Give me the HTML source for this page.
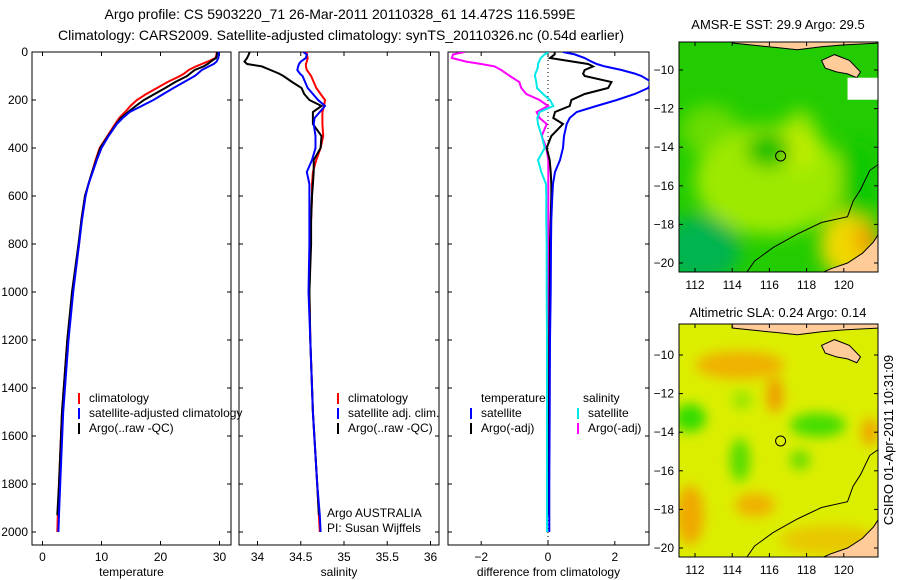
<!DOCTYPE html>
<html><head><meta charset="utf-8"><style>
html,body{margin:0;padding:0;background:#fff;}
svg{display:block;font-family:"Liberation Sans",Arial,sans-serif;}
</style></head><body>
<svg id="fig" width="900" height="580" viewBox="0 0 900 580" xmlns="http://www.w3.org/2000/svg">
<defs>
<clipPath id="c1"><rect x="32" y="52" width="199" height="493"/></clipPath>
<clipPath id="c2"><rect x="239" y="52" width="200" height="493"/></clipPath>
<clipPath id="c3"><rect x="448" y="52" width="201" height="493"/></clipPath>
<clipPath id="m1"><rect x="679" y="42" width="199" height="230"/></clipPath>
<clipPath id="m2"><rect x="679" y="324" width="199" height="233"/></clipPath>
<filter id="bl" x="-50%" y="-50%" width="200%" height="200%"><feGaussianBlur stdDeviation="9"/></filter>
<filter id="bl2" x="-50%" y="-50%" width="200%" height="200%"><feGaussianBlur stdDeviation="6"/></filter>
</defs>
<text x="340" y="19" font-size="14" text-anchor="middle">Argo profile: CS 5903220_71 26-Mar-2011 20110328_61 14.472S 116.599E</text>
<text x="341" y="40" font-size="14" text-anchor="middle" textLength="566">Climatology: CARS2009. Satellite-adjusted climatology: synTS_20110326.nc (0.54d earlier)</text>

<g id="maps">
 <g clip-path="url(#m1)">
  <rect x="679" y="42" width="199" height="230" fill="#22cc00"/>
  <g filter="url(#bl)">
   <ellipse cx="770" cy="180" rx="75" ry="55" fill="#b4ee00" opacity="0.85"/>
   <ellipse cx="710" cy="130" rx="30" ry="25" fill="#99e600" opacity="0.6"/>
   <ellipse cx="800" cy="140" rx="18" ry="30" fill="#ccf000" opacity="0.7"/>
   <ellipse cx="700" cy="250" rx="40" ry="35" fill="#00b450"/>
   <ellipse cx="850" cy="245" rx="30" ry="35" fill="#f0d800"/>
   <ellipse cx="866" cy="240" rx="10" ry="15" fill="#f09000"/>
   <ellipse cx="768" cy="150" rx="22" ry="18" fill="#10c000"/>
   <ellipse cx="860" cy="180" rx="20" ry="40" fill="#10c800"/>
  </g>
  <circle cx="780.6" cy="156" r="5" fill="none" stroke="#000" stroke-width="1"/>
 </g>
 <g clip-path="url(#m2)">
  <rect x="679" y="324" width="199" height="233" fill="#dcee00"/>
  <g filter="url(#bl2)">
   <ellipse cx="740" cy="365" rx="45" ry="14" fill="#f0b000"/>
   <ellipse cx="775" cy="395" rx="8" ry="18" fill="#f09800"/>
   <ellipse cx="690" cy="515" rx="14" ry="30" fill="#f0a800"/>
   <ellipse cx="755" cy="505" rx="20" ry="12" fill="#f0b000"/>
   <ellipse cx="870" cy="432" rx="8" ry="14" fill="#f0a000"/>
   <ellipse cx="690" cy="418" rx="16" ry="14" fill="#33dd00"/>
   <ellipse cx="740" cy="460" rx="10" ry="22" fill="#55dd00"/>
   <ellipse cx="818" cy="425" rx="28" ry="12" fill="#44dd00"/>
   <ellipse cx="800" cy="460" rx="10" ry="10" fill="#66dd00"/>
   <ellipse cx="742" cy="400" rx="10" ry="10" fill="#99e600"/>
   <ellipse cx="830" cy="540" rx="50" ry="15" fill="#e8c800"/>
  </g>
  <circle cx="780.6" cy="441" r="5" fill="none" stroke="#000" stroke-width="1"/>
 </g>
 <g id="land"></g>
 <rect x="679" y="42" width="199" height="230" fill="none" stroke="#000"/>
 <rect x="679" y="324" width="199" height="233" fill="none" stroke="#000"/>
 <text x="778" y="29" font-size="13" text-anchor="middle">AMSR-E SST: 29.9 Argo: 29.5</text>
 <text x="778" y="317" font-size="13" text-anchor="middle">Altimetric SLA: 0.24 Argo: 0.14</text>
 <text transform="translate(893,440) rotate(-90)" font-size="13" text-anchor="middle">CSIRO 01-Apr-2011 10:31:09</text>
</g>
<g id="panels"></g>
</svg>
<script>
const depths=[0,10,25,40,50,60,75,90,100,125,150,175,200,225,250,275,300,350,400,450,500,550,600,700,800,1000,1200,1500,1800,1930,2000];
const tempClim=[29.5,29.5,29.3,28,27,26,24.8,24,23.3,21.2,19.4,17.6,16,14.9,14,13,12.3,11,9.7,9,8.4,7.8,7.2,6.6,6.2,5.1,4.2,3.3,2.8,2.6,2.5];
const tempSat=[29.8,29.9,29.8,29.5,29,28.2,27,26.3,25.8,24,22.2,20.5,18.8,16.8,14.8,13.6,12.6,11.2,10,9.2,8.5,7.8,7.3,6.7,6.2,5.2,4.4,3.5,3,2.8,2.7];
const tempArgo=[29.6,29.6,29.4,28.5,28,27.3,25.8,25,24.5,22.5,20.8,19,17.2,15.8,14.5,13.3,12.5,11.1,9.8,9.1,8.4,7.8,7.2,6.6,6.1,5.0,4.2,3.3,2.8,2.5,null];
const salClim=[34.57,34.57,34.58,34.57,34.56,34.56,34.57,34.6,34.62,34.65,34.68,34.73,34.78,34.77,34.75,34.75,34.75,34.76,34.73,34.68,34.64,34.63,34.63,34.62,34.61,34.6,34.61,34.64,34.69,34.71,34.72];
const salSat=[34.53,34.57,34.56,34.5,34.48,34.47,34.46,34.49,34.52,34.55,34.58,34.64,34.7,34.78,34.72,34.66,34.65,34.67,34.67,34.63,34.57,34.6,34.6,34.6,34.6,34.59,34.61,34.64,34.69,34.72,34.73];
const salArgo=[33.91,33.9,33.88,33.85,33.88,34.05,34.15,34.25,34.3,34.4,34.51,34.54,34.6,34.74,34.64,34.64,34.64,34.74,34.73,34.65,34.65,34.64,34.63,34.62,34.62,34.6,34.61,34.64,34.69,34.71,null];
const dTempSat=[0.45,0.8,1.1,1.3,1.46,1.7,2.2,2.6,2.8,3.1,3.0,2.6,2.06,1.45,0.86,0.65,0.56,0.48,0.45,0.36,0.21,0.15,0.13,0.1,0.09,0.08,0.06,0.05,0.04,0.04,0.04];
const dTempArgo=[0.2,0.2,0.06,0.75,1.2,1.35,1.1,1.05,1.1,1.9,1.8,1.1,0.7,0.65,0.21,0.16,0.45,0.1,-0.04,0.05,0.08,0.1,0.1,0.08,0.06,0.05,0.04,0.03,0.03,0.03,null];
const dSalSat=[0.01,-0.1,-0.22,-0.27,-0.3,-0.3,-0.33,-0.38,-0.39,-0.35,-0.33,-0.15,0.06,0.16,-0.25,-0.32,-0.3,-0.19,-0.1,-0.3,-0.2,-0.06,-0.05,-0.05,-0.04,-0.04,-0.03,-0.03,-0.03,-0.03,-0.03];
const dSalArgo=[-2.5,-2.84,-2.88,-2.45,-2.0,-1.6,-1.4,-1.25,-1.14,-0.86,-0.8,-0.65,-0.25,0,-0.34,-0.25,-0.04,-0.19,-0.05,0.01,0.01,0.01,0.01,0.01,0.01,0.01,0.01,0.01,0.01,0.01,null];
const depthTicks=[0,200,400,600,800,1000,1200,1400,1600,1800,2000];
const tempTicks=[0,10,20,30];
const salTicks=[34,34.5,35,35.5,36];
const diffTicks=[-2,0,2];

const NS='http://www.w3.org/2000/svg';
const root=document.getElementById('panels');
function mk(tag,attrs,parent){const e=document.createElementNS(NS,tag);for(const k in attrs)e.setAttribute(k,attrs[k]);(parent||root).appendChild(e);return e;}
const yD=d=>52+d*0.24;
const yTop=52,yBot=545;
const panels=[
 {x0:32,x1:231,clip:'c1',sx:v=>42.5+v*5.9,ticks:tempTicks,label:'temperature',name:'temperature-panel'},
 {x0:239,x1:439,clip:'c2',sx:v=>257.5+(v-34)*86.5,ticks:salTicks,label:'salinity',name:'salinity-panel'},
 {x0:448,x1:649,clip:'c3',sx:v=>548+v*33.4,ticks:diffTicks,label:'difference from climatology',name:'difference-panel'}
];
panels.forEach((p,i)=>{
 const g=mk('g',{});
 
 
 p.g=g;
 const r=mk('rect',{x:p.x0,y:yTop,width:p.x1-p.x0,height:yBot-yTop,fill:'none',stroke:'#000','stroke-width':1},g);
 
 
 depthTicks.forEach(d=>{
  mk('line',{x1:p.x0,x2:p.x0+4,y1:yD(d),y2:yD(d),stroke:'#000'},g);
  mk('line',{x1:p.x1,x2:p.x1-4,y1:yD(d),y2:yD(d),stroke:'#000'},g);
  if(i===0){const t=mk('text',{x:28,y:yD(d)+4,'font-size':12,'text-anchor':'end'},g);t.textContent=d;
   
   }
 });
 p.ticks.forEach(v=>{
  const x=p.sx(v);
  mk('line',{x1:x,x2:x,y1:yBot,y2:yBot-4,stroke:'#000'},g);
  mk('line',{x1:x,x2:x,y1:yTop,y2:yTop+4,stroke:'#000'},g);
  const t=mk('text',{x:x,y:561,'font-size':12,'text-anchor':'middle'},g);t.textContent=String(v).replace('-','\u2212');
  
  
 });
 const lb=mk('text',{x:(p.x0+p.x1)/2,y:576,'font-size':12,'text-anchor':'middle'},g);lb.textContent=p.label;
 
 
});
function series(p,vals,color,name,w){
 let d='';let pen=false;
 vals.forEach((v,k)=>{if(v===null){pen=false;return;}d+=(pen?'L':'M')+p.sx(v).toFixed(1)+','+yD(depths[k]).toFixed(1);pen=true;});
 const e=mk('path',{d:d,fill:'none',stroke:color,'stroke-width':w||2,'clip-path':'url(#'+p.clip+')'},p.g);
 
 
}
const P=panels;
const zl=mk('line',{x1:P[2].sx(0),x2:P[2].sx(0),y1:yTop,y2:yBot,stroke:'#000','stroke-dasharray':'1,3'},P[2].g);


series(P[0],tempClim,'#ff0000','temp-climatology-line');
series(P[0],tempArgo,'#000000','temp-argo-line');
series(P[0],tempSat,'#0000ff','temp-satellite-line');
series(P[1],salClim,'#ff0000','sal-climatology-line');
series(P[1],salArgo,'#000000','sal-argo-line');
series(P[1],salSat,'#0000ff','sal-satellite-line');
series(P[2],dSalArgo,'#ff00ff','diff-sal-argo-line');
series(P[2],dSalSat,'#00e8e8','diff-sal-satellite-line');
series(P[2],dTempArgo,'#000000','diff-temp-argo-line');
series(P[2],dTempSat,'#0000ff','diff-temp-satellite-line');

function legend(g,x,y,color,text,clip){
 const gg=mk('g',clip?{'clip-path':'url(#'+clip+')'}:{},g);
 
 
 mk('line',{x1:x,x2:x,y1:y-9,y2:y+2,stroke:color,'stroke-width':2},gg);
 const t=mk('text',{x:x+10,y:y,'font-size':12},gg);t.textContent=text;
}
legend(P[0].g,79,402,'#ff0000','climatology');
legend(P[0].g,79,417,'#0000ff','satellite-adjusted climatology');
legend(P[0].g,79,432,'#000000','Argo(..raw -QC)');
legend(P[1].g,338,402,'#ff0000','climatology');
legend(P[1].g,338,417,'#0000ff','satellite adj. clim.');
legend(P[1].g,338,432,'#000000','Argo(..raw -QC)');
[['temperature',481,402],['salinity',583,402]].forEach(a=>{const t=mk('text',{x:a[1],y:a[2],'font-size':12},P[2].g);t.textContent=a[0];
 
 });
legend(P[2].g,471,417,'#0000ff','satellite');
legend(P[2].g,471,432,'#000000','Argo(-adj)');
legend(P[2].g,578,417,'#00e8e8','satellite');
legend(P[2].g,578,432,'#ff00ff','Argo(-adj)');
[['Argo AUSTRALIA',517],['PI: Susan Wijffels',532]].forEach(a=>{const t=mk('text',{x:327,y:a[1],'font-size':12},P[1].g);t.textContent=a[0];
 
 });

// maps: land, coast contour, ticks
const land=document.getElementById('land');
const lx=lon=>695+(lon-112)*18.6;
const ly=(lat,off)=>70+(-10-lat)*19.3+off;
[[0,'m1'],[285,'m2']].forEach(([off,clip],mi)=>{
 const g=mk('g',{'clip-path':'url(#'+clip+')'},land);
 
 
 const pt=(lon,lat)=>lx(lon).toFixed(1)+','+ly(lat,off).toFixed(1);
 mk('polygon',{points:[pt(114,-8.3),pt(122,-8.3),pt(122,-8.6),pt(120,-8.7),pt(118.8,-8.8),pt(117.5,-8.95),pt(116.5,-8.85),pt(115.5,-8.75),pt(114,-8.6)].join(' '),fill:'#ffcc99',stroke:'#000','stroke-width':1},g);
 mk('polygon',{points:[pt(118.8,-9.5),pt(119.5,-9.2),pt(120.3,-9.5),pt(120.9,-10.1),pt(120.7,-10.4),pt(120.2,-10.2),pt(119.6,-10.1),pt(119,-9.9)].join(' '),fill:'#ffcc99',stroke:'#000','stroke-width':1},g);
 mk('polygon',{points:[pt(122,-18.3),pt(121.6,-18.9),pt(121,-19.5),pt(120.2,-20),pt(119.3,-20.3),pt(118.6,-20.6),pt(122,-20.7)].join(' '),fill:'#ffcc99',stroke:'#000','stroke-width':1},g);
 if(!mi) mk('rect',{x:lx(120.2),y:ly(-10.4,0),width:35,height:22,fill:'#fff'},g);
 mk('polyline',{points:[pt(114.7,-20.6),pt(115.2,-19.9),pt(116.2,-19.2),pt(117.5,-18.5),pt(118.8,-17.9),pt(120.2,-17.6),pt(120.5,-16.8),pt(120.9,-16.2),pt(121.4,-15.2),pt(122,-14.8)].join(' '),fill:'none',stroke:'#000','stroke-width':1},g);
 const fr={x0:679,x1:878,y0:mi?324:42,y1:mi?557:272};
 [-10,-12,-14,-16,-18,-20].forEach(lat=>{
  const y=ly(lat,off);
  mk('line',{x1:fr.x0,x2:fr.x0+4,y1:y,y2:y,stroke:'#000'},land);
  mk('line',{x1:fr.x1,x2:fr.x1-4,y1:y,y2:y,stroke:'#000'},land);
  const t=mk('text',{x:674,y:y+4,'font-size':12,'text-anchor':'end'},land);t.textContent=String(lat).replace('-','\u2212');
  
  
 });
 [112,114,116,118,120].forEach(lon=>{
  const x=lx(lon);
  mk('line',{x1:x,x2:x,y1:fr.y1,y2:fr.y1-4,stroke:'#000'},land);
  mk('line',{x1:x,x2:x,y1:fr.y0,y2:fr.y0+4,stroke:'#000'},land);
  const t=mk('text',{x:x,y:fr.y1+17,'font-size':12,'text-anchor':'middle'},land);t.textContent=lon;
  
  
 });
});
</script>
</body></html>
